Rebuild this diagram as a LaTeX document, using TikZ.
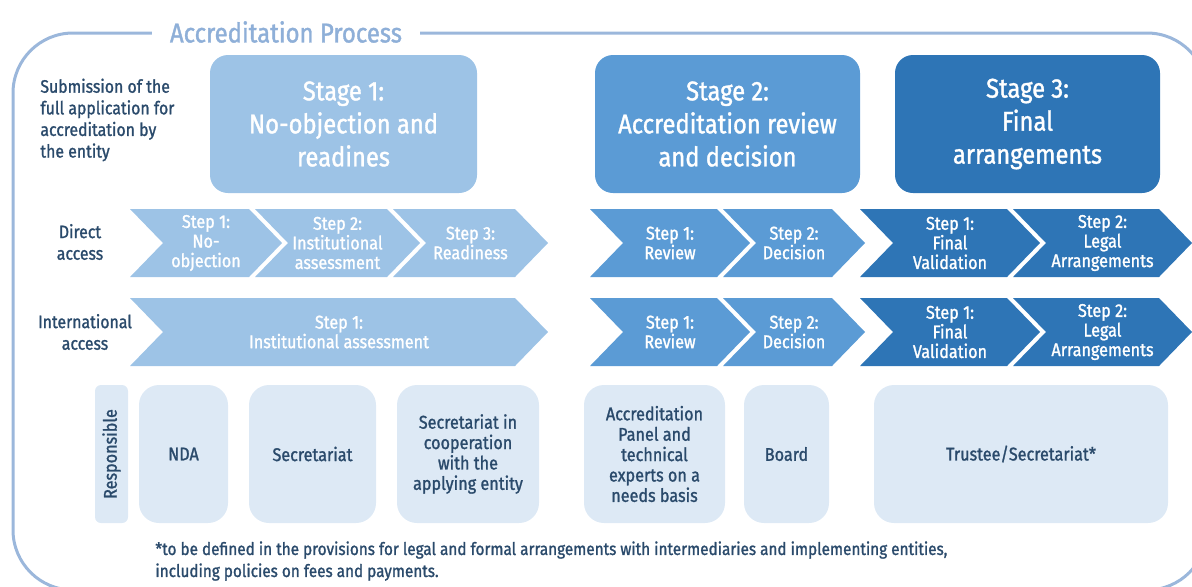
\documentclass[tikz,border=0pt]{standalone}
\usepackage{fontspec}
\setmainfont{Fira Sans}[FakeStretch=0.88]
\newfontfamily\medfont{Fira Sans}[FakeStretch=0.88,FakeBold=1.3]

\definecolor{framecol}{HTML}{9BB7DB}
\definecolor{titlecol}{HTML}{8EAFD8}
\definecolor{stageone}{HTML}{9DC3E6}
\definecolor{stagetwo}{HTML}{5B9BD5}
\definecolor{stagethree}{HTML}{2E75B6}
\definecolor{respfill}{HTML}{DDE9F5}
\definecolor{darktext}{HTML}{2A4A6B}

\tikzset{
  frame/.style={draw=framecol, line width=1.5pt, rounded corners=30pt},
  stagebox/.style={rounded corners=9pt},
  stagetext/.style={text=white, align=center, font=\medfont\fontsize{13.5}{16.5}\selectfont},
  steptext/.style={text=white, align=center, inner sep=0pt, font=\medfont\fontsize{9.2}{9.8}\selectfont},
  sidelabel/.style={text=darktext, align=center, inner sep=0pt, font=\medfont\fontsize{9}{10.8}\selectfont},
  respbox/.style={fill=respfill, rounded corners=10pt},
  resptext/.style={text=darktext, align=center, inner sep=0pt, font=\medfont\fontsize{9.2}{10.2}\selectfont}
}

% chevron: name, left x, right x, top y, colour, text
\newcommand{\chevron}[6]{%
  \fill[#5] (#2,#4) -- ({#3-33},#4) -- (#3,{#4+34}) -- ({#3-33},{#4+68})
    -- (#2,{#4+68}) -- ({#2+33},{#4+34}) -- cycle;
  \node[steptext] (#1) at ({(#2+#3)/2},{#4+34}) {#6};
}

\begin{document}
\begin{tikzpicture}[x=0.5pt,y=-0.5pt]
  \useasboundingbox (0,0) rectangle (1192,586);

  % outer frame and title
  \begin{scope}
    \clip (0,0) rectangle (1192,586);
    \draw[frame] (13,33) rectangle (1207,590);
  \end{scope}
  \node[fill=white, inner xsep=9pt, text=titlecol, font=\medfont\fontsize{13.6}{16}\selectfont]
    (title) at (286,32) {Accreditation Process};

  % stages
  \node[sidelabel, align=left, anchor=west] (submit) at (40,120)
    {Submission of the\\full application for\\accreditation by\\the entity};
  \fill[stagebox, stageone] (210,55) rectangle (477,193)
    node[midway, stagetext] (st1) {Stage 1:\\No-objection and\\readines};
  \fill[stagebox, stagetwo] (595,55) rectangle (860,193)
    node[midway, stagetext] (st2) {Stage 2:\\Accreditation review\\and decision};
  \fill[stagebox, stagethree] (895,55) rectangle (1160,193)
    node[midway, stagetext] (st3) {Stage 3:\\Final\\arrangements};

  % direct access
  \node[sidelabel] (direct) at (80,242) {Direct\\access};
  \chevron{d1}{130}{282}{209}{stageone}{Step 1:\\No-\\objection}
  \chevron{d2}{255}{420}{209}{stageone}{Step 2:\\Institutional\\assessment}
  \chevron{d3}{393}{548}{209}{stageone}{Step 3:\\Readiness}

  % international access
  \node[sidelabel] (intl) at (85,332) {International\\access};
  \chevron{i1}{130}{548}{298}{stageone}{Step 1:\\Institutional assessment}

  % stage 2 and 3 steps, same in both rows
  \foreach \y in {209,298}{
    \chevron{rev\y}{590}{750}{\y}{stagetwo}{Step 1:\\Review}
    \chevron{dec\y}{723}{865}{\y}{stagetwo}{Step 2:\\Decision}
    \chevron{val\y}{860}{1040}{\y}{stagethree}{Step 1:\\Final\\Validation}
    \chevron{leg\y}{1013}{1192}{\y}{stagethree}{Step 2:\\Legal\\Arrangements}
  }

  % responsible
  \fill[respfill, rounded corners=3pt] (95,385) rectangle (128,523)
    node[midway, resptext, rotate=90] (resp) {Responsible};
  \fill[respbox] (139,385) rectangle (228,523) node[midway, resptext] (nda) {NDA};
  \fill[respbox] (249,385) rectangle (376,523) node[midway, resptext] (sec) {Secretariat};
  \fill[respbox] (397,385) rectangle (539,523)
    node[midway, resptext] (secae) {Secretariat in\\cooperation\\with the\\applying entity};
  \fill[respbox] (584,385) rectangle (725,523)
    node[midway, resptext] (panel) {Accreditation\\Panel and\\technical\\experts on a\\needs basis};
  \fill[respbox] (744,385) rectangle (829,523) node[midway, resptext] (board) {Board};
  \fill[respbox] (874,385) rectangle (1168,523)
    node[midway, resptext] (trustee) {Trustee/Secretariat*};

  % footnote
  \node[resptext, align=left, anchor=north west, font=\medfont\fontsize{8.7}{11}\selectfont]
    (note) at (155,541) {*to be defined in the provisions for legal and formal arrangements with intermediaries and implementing entities,\\including policies on fees and payments.};
\end{tikzpicture}
\end{document}
